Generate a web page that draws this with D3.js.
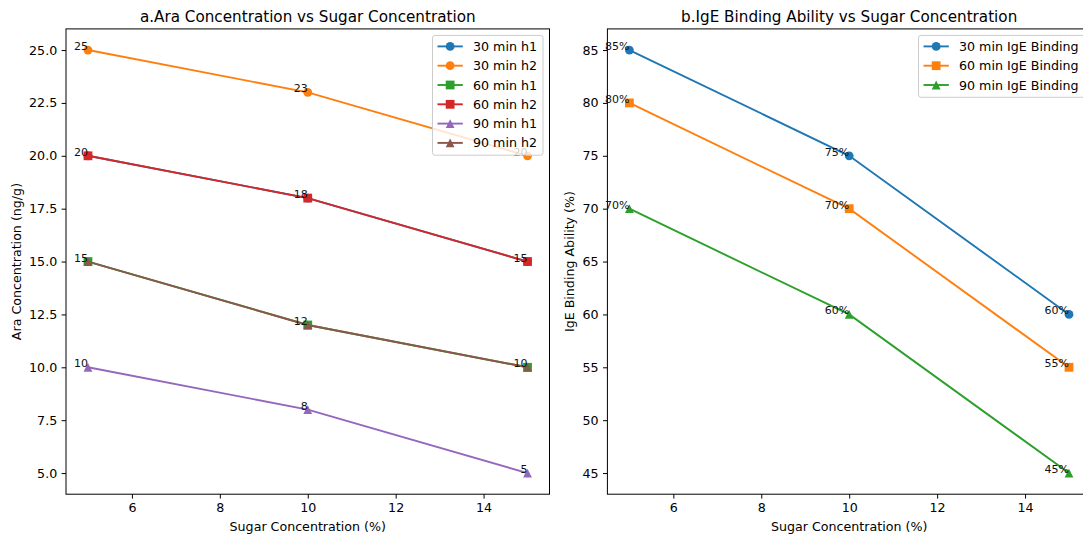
<!DOCTYPE html>
<html>
<head>
<meta charset="utf-8">
<script src="https://cdn.jsdelivr.net/npm/d3@7"></script>
<style>
body { margin: 0; background: #fff; }
svg { display: block; font-family: "DejaVu Sans", sans-serif; }
</style>
</head>
<body>
<script>
// data
var sugar = [5, 10, 15];

var araNames = ["30 min h1", "30 min h2", "60 min h1", "60 min h2", "90 min h1", "90 min h2"];
var ara30h1 = [20, 18, 15];
var ara30h2 = [25, 23, 20];
var ara60h1 = [15, 12, 10];
var ara60h2 = [20, 18, 15];
var ara90h1 = [10, 8, 5];
var ara90h2 = [15, 12, 10];

var igeNames = ["30 min IgE Binding", "60 min IgE Binding", "90 min IgE Binding"];
var ige30 = [85, 75, 60];
var ige60 = [80, 70, 55];
var ige90 = [70, 60, 45];

var xTicks = [6, 8, 10, 12, 14];
var araTicks = [5, 7.5, 10, 12.5, 15, 17.5, 20, 22.5, 25];
var igeTicks = [45, 50, 55, 60, 65, 70, 75, 80, 85];

var W = 1083, H = 538;
var colors = d3.schemeCategory10;
var tickFont = 12.65;
var ms = 4.4; // half marker size

var svg = d3.select("body").append("svg")
	.attr("width", W)
	.attr("height", H);

function markerPath(shape) {
	if (shape == "o") return "M" + ms + ",0A" + ms + "," + ms + " 0 1,1 " + (-ms) + ",0A" + ms + "," + ms + " 0 1,1 " + ms + ",0Z";
	if (shape == "s") return "M" + (-ms) + "," + (-ms) + "H" + ms + "V" + ms + "H" + (-ms) + "Z";
	return "M0," + (-ms) + "L" + ms + "," + ms + "L" + (-ms) + "," + ms + "Z";
}

function padDomain(vals) {
	var e = d3.extent(vals);
	var m = (e[1] - e[0]) * 0.05;
	return [e[0] - m, e[1] + m];
}

function drawPanel(p) {
	var allY = [];
	p.series.forEach(function(s) { allY = allY.concat(s.values); });
	var x = d3.scaleLinear().domain(padDomain(sugar)).range([p.left, p.right]);
	var y = d3.scaleLinear().domain(padDomain(allY)).range([p.bottom, p.top]);

	var g = svg.append("g");
	var clipId = "clip" + p.id;
	g.append("clipPath").attr("id", clipId)
		.append("rect")
		.attr("x", p.left).attr("y", p.top)
		.attr("width", p.right - p.left).attr("height", p.bottom - p.top);

	// series
	var line = d3.line()
		.x(function(d, i) { return x(sugar[i]); })
		.y(function(d) { return y(d); });
	p.series.forEach(function(s) {
		g.append("path")
			.attr("d", line(s.values))
			.attr("clip-path", "url(#" + clipId + ")")
			.style("fill", "none")
			.style("stroke", s.color)
			.style("stroke-width", 1.9);
		g.selectAll(null)
			.data(s.values)
			.enter()
			.append("path")
			.attr("d", markerPath(s.marker))
			.attr("transform", function(d, i) { return "translate(" + x(sugar[i]) + "," + y(d) + ")"; })
			.style("fill", s.color);
	});

	// axes
	var xAxis = g.append("g")
		.attr("transform", "translate(0," + p.bottom + ")")
		.call(d3.axisBottom(x).tickValues(xTicks).tickSize(4.4).tickPadding(4.2).tickFormat(d3.format("d")));
	var yAxis = g.append("g")
		.attr("transform", "translate(" + p.left + ",0)")
		.call(d3.axisLeft(y).tickValues(p.ticks).tickSize(4.4).tickPadding(4.4).tickFormat(p.tickFormat));
	[xAxis, yAxis].forEach(function(a) {
		a.select(".domain").remove();
		a.selectAll("line").style("stroke", "#000").style("stroke-width", 1);
		a.selectAll("text").style("font-size", tickFont + "px").style("fill", "#000")
			.style("font-family", "DejaVu Sans, sans-serif");
	});

	g.append("rect")
		.attr("x", p.left).attr("y", p.top)
		.attr("width", p.right - p.left).attr("height", p.bottom - p.top)
		.style("fill", "none")
		.style("stroke", "#000")
		.style("stroke-width", 1);

	// point labels (same label on the same spot drawn once)
	var seen = {};
	p.series.forEach(function(s) {
		s.values.forEach(function(v, i) {
			var key = sugar[i] + "|" + v;
			if (seen[key]) return;
			seen[key] = true;
			g.append("text")
				.attr("x", x(sugar[i]))
				.attr("y", y(v))
				.attr("text-anchor", "end")
				.style("font-size", "11px")
				.style("fill", "#111")
				.text(v + p.labelSuffix);
		});
	});

	// titles
	var cx = (p.left + p.right) / 2;
	g.append("text")
		.attr("x", cx).attr("y", 21.5)
		.attr("text-anchor", "middle")
		.style("font-size", "15.2px")
		.text(p.title);
	g.append("text")
		.attr("x", cx).attr("y", 531)
		.attr("text-anchor", "middle")
		.style("font-size", tickFont + "px")
		.text("Sugar Concentration (%)");
	g.append("text")
		.attr("transform", "translate(" + p.ylabelX + "," + ((p.top + p.bottom) / 2) + ") rotate(-90)")
		.attr("text-anchor", "middle")
		.style("font-size", tickFont + "px")
		.text(p.ylabel);

	// legend
	var lg = g.append("g");
	var box = lg.append("rect");
	var maxW = 0;
	var rowH = 19.3;
	p.series.forEach(function(s, i) {
		var ry = p.top + 11 + i * rowH + 6.5;
		lg.append("line")
			.attr("x1", 0).attr("x2", 25.3)
			.attr("y1", ry).attr("y2", ry)
			.style("stroke", s.color)
			.style("stroke-width", 1.9);
		lg.append("path")
			.attr("d", markerPath(s.marker))
			.attr("transform", "translate(12.65," + ry + ")")
			.style("fill", s.color);
		var t = lg.append("text")
			.attr("x", 35.5).attr("y", ry)
			.attr("dy", "0.36em")
			.style("font-size", tickFont + "px")
			.style("fill", "#000")
			.text(s.name);
		maxW = Math.max(maxW, t.node().getComputedTextLength());
	});
	var boxW = 5 + 35.5 + maxW + 6;
	var boxX = p.right - 6.5 - boxW;
	lg.attr("transform", "translate(" + (boxX + 5) + ",0)");
	box.attr("x", -5).attr("y", p.top + 6.5)
		.attr("width", boxW).attr("height", p.series.length * rowH + 4)
		.attr("rx", 2.5)
		.style("fill", "#fff").style("fill-opacity", 0.8)
		.style("stroke", "#ccc").style("stroke-width", 1);
}

var araValues = [ara30h1, ara30h2, ara60h1, ara60h2, ara90h1, ara90h2];
var araMarkers = ["o", "o", "s", "s", "^", "^"];
drawPanel({
	id: "a",
	left: 66, right: 549.5, top: 28.9, bottom: 494.2,
	ticks: araTicks,
	tickFormat: d3.format(".1f"),
	labelSuffix: "",
	title: "a.Ara Concentration vs Sugar Concentration",
	ylabel: "Ara Concentration (ng/g)",
	ylabelX: 21,
	series: araNames.map(function(n, i) {
		return { name: n, values: araValues[i], color: colors[i], marker: araMarkers[i] };
	})
});

var igeValues = [ige30, ige60, ige90];
var igeMarkers = ["o", "s", "^"];
drawPanel({
	id: "b",
	left: 607.4, right: 1091, top: 28.9, bottom: 494.2,
	ticks: igeTicks,
	tickFormat: d3.format("d"),
	labelSuffix: "%",
	title: "b.IgE Binding Ability vs Sugar Concentration",
	ylabel: "IgE Binding Ability (%)",
	ylabelX: 574,
	series: igeNames.map(function(n, i) {
		return { name: n, values: igeValues[i], color: colors[i], marker: igeMarkers[i] };
	})
});
</script>
</body>
</html>
